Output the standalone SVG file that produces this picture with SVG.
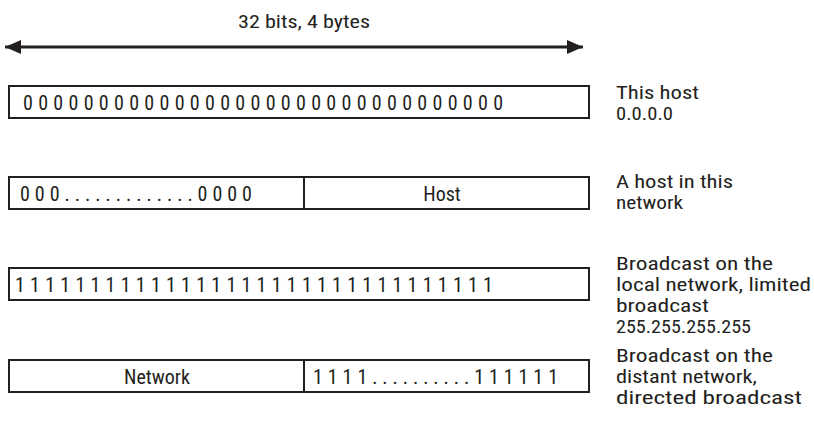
<svg xmlns="http://www.w3.org/2000/svg" width="814" height="428" viewBox="0 0 814 428">
<style>
text{font-family:"Liberation Sans Narrow","Roboto Condensed","Liberation Sans",sans-serif;font-stretch:condensed;font-size:20px;fill:#231f20}
.lbl{font-size:18px}
.box{fill:#fff;stroke:#231f20;stroke-width:2}
.div{stroke:#231f20;stroke-width:2}
.mid{text-anchor:middle}
</style>
<defs>
<marker id="ah" viewBox="0 0 16 14" refX="16" refY="7" markerWidth="16" markerHeight="14" markerUnits="userSpaceOnUse" orient="auto-start-reverse">
<path d="M0,0 L16,7 L0,14 Z" fill="#231f20"/>
</marker>
</defs>
<rect width="814" height="428" fill="#fff"/>
<g id="connectors">
<line x1="5" y1="47" x2="583" y2="47" stroke="#231f20" stroke-width="3" marker-start="url(#ah)" marker-end="url(#ah)"/>
</g>
<g id="title"><text x="238" y="28" class="lbl" textLength="132" lengthAdjust="spacingAndGlyphs">32 bits, 4 bytes</text></g>
<g id="row1">
<rect class="box" x="9" y="86" width="580" height="32"/>
<text x="23" y="110" textLength="480" lengthAdjust="spacing">00000000000000000000000000000000</text>
</g>
<g id="row2">
<rect class="box" x="9" y="177" width="580" height="32"/>
<line class="div" x1="304" y1="177" x2="304" y2="209"/>
<text x="20" y="201" textLength="232" lengthAdjust="spacing">000.............0000</text>
<text x="442" y="201" class="mid">Host</text>
</g>
<g id="row3">
<rect class="box" x="9" y="268" width="580" height="32"/>
<text x="15" y="292" textLength="478" lengthAdjust="spacing">11111111111111111111111111111111</text>
</g>
<g id="row4">
<rect class="box" x="9" y="360" width="580" height="32"/>
<line class="div" x1="304" y1="360" x2="304" y2="392"/>
<text x="157" y="384" class="mid">Network</text>
<text x="313" y="384" textLength="245" lengthAdjust="spacing">1111..........111111</text>
</g>
<g id="labels" class="lbl">
<text class="lbl" x="616" y="99" textLength="83" lengthAdjust="spacingAndGlyphs">This host</text>
<text class="lbl" x="616" y="120" textLength="57" lengthAdjust="spacingAndGlyphs">0.0.0.0</text>
<text class="lbl" x="616" y="188" textLength="117" lengthAdjust="spacingAndGlyphs">A host in this</text>
<text class="lbl" x="616" y="209" textLength="67" lengthAdjust="spacingAndGlyphs">network</text>
<text class="lbl" x="616" y="270" textLength="157" lengthAdjust="spacingAndGlyphs">Broadcast on the</text>
<text class="lbl" x="616" y="291" textLength="195" lengthAdjust="spacingAndGlyphs">local network, limited</text>
<text class="lbl" x="616" y="312" textLength="93" lengthAdjust="spacingAndGlyphs">broadcast</text>
<text class="lbl" x="616" y="333" textLength="135" lengthAdjust="spacingAndGlyphs">255.255.255.255</text>
<text class="lbl" x="616" y="362" textLength="157" lengthAdjust="spacingAndGlyphs">Broadcast on the</text>
<text class="lbl" x="616" y="383" textLength="141" lengthAdjust="spacingAndGlyphs">distant network,</text>
<text class="lbl" x="616" y="404" textLength="186" lengthAdjust="spacingAndGlyphs">directed broadcast</text>
</g>
</svg>
